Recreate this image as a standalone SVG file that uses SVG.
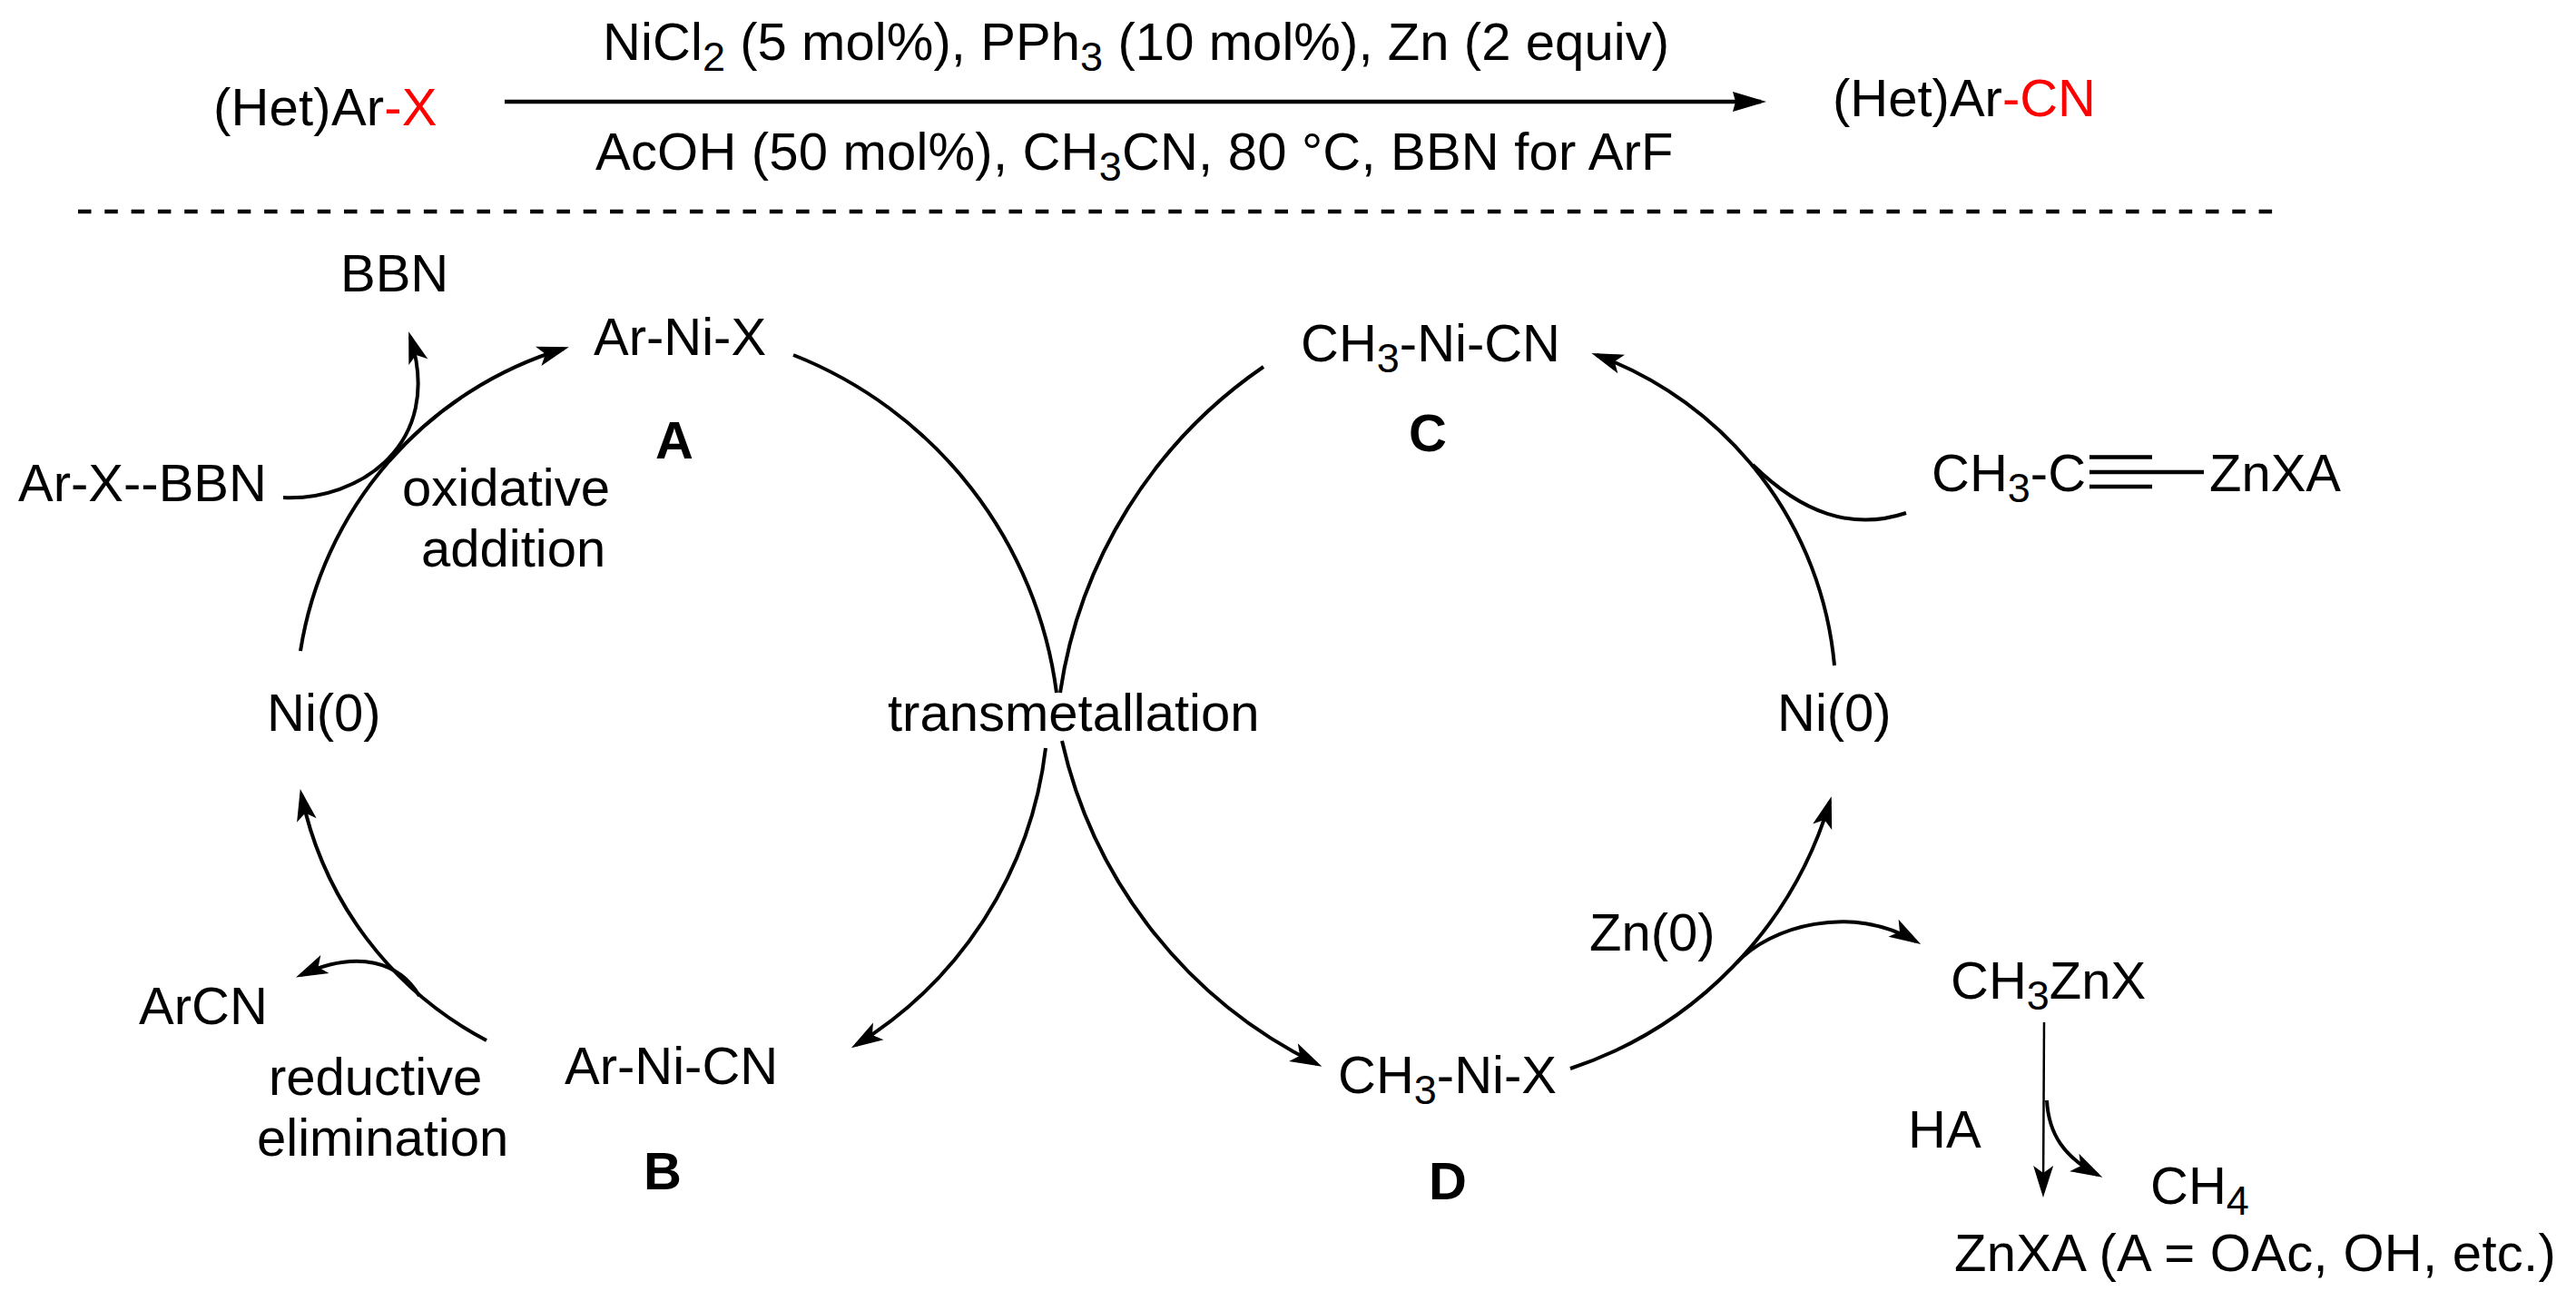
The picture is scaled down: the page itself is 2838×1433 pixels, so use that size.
<svg xmlns="http://www.w3.org/2000/svg" width="2838" height="1433" viewBox="0 0 2838 1433">
<style>
text{font-family:"Liberation Sans",Arial,sans-serif;font-size:58px;fill:#000}
.b{font-weight:bold}
.r{fill:#f00}
.s{font-size:45px}
.c{fill:none;stroke:#000;stroke-width:4}
.h{marker-end:url(#head)}
</style>
<defs>
<marker id="head" markerUnits="userSpaceOnUse" viewBox="-40 -15 45 30" markerWidth="45" markerHeight="30" refX="-6" refY="0" orient="auto" overflow="visible"><path d="M0 0L-35 -11L-27 0L-35 11Z" fill="#000"/></marker>
<marker id="big" markerUnits="userSpaceOnUse" viewBox="-45 -15 50 30" markerWidth="50" markerHeight="30" refX="-6" refY="0" orient="auto" overflow="visible"><path d="M0 0L-37 -11L-34 0L-37 11Z" fill="#000"/></marker>
</defs>
<rect width="2838" height="1433" fill="#fff"/>
<g id="connectors">
<path d="M556 112H1940" fill="none" stroke="#000" stroke-width="4.500" marker-end="url(#big)"/>
<path d="M86 233H2505" fill="none" stroke="#000" stroke-width="4.500" stroke-dasharray="14.5 14.8"/>
<path class="c h" d="M331 717A415 415 0 0 1 621 384"/>
<path class="c h" d="M312 548C395 552 490 490 452 371"/>
<path class="c" d="M874 391A464 464 0 0 1 1164 763"/>
<path class="c" d="M1392 404A528 528 0 0 0 1168 763"/>
<path class="c h" d="M1152 824A445 445 0 0 1 943 1151"/>
<path class="c h" d="M1170 816A525 525 0 0 0 1451 1172"/>
<path class="c h" d="M536 1146A397 397 0 0 1 332 875"/>
<path class="c h" d="M462 1097C440 1060 395 1045 331.500 1074"/>
<path class="c h" d="M1730 1177A444 444 0 0 0 2016 883"/>
<path class="c h" d="M1913 1061C1950 1020 2040 995 2111 1037"/>
<path class="c h" d="M2021 733A403 403 0 0 0 1759 391"/>
<path class="c" d="M2100 565C2040 585 1985 565 1931 512"/>
<path class="c h" style="stroke-width:2.500" d="M2252 1126L2251 1313"/>
<path class="c h" d="M2255 1212C2257 1250 2275 1275 2311 1294"/>
<path d="M2302 503.500H2371M2302 520H2428M2302 536H2371" fill="none" stroke="#000" stroke-width="4.500"/>
</g>
<g id="reactant"><text x="235" y="138" style="letter-spacing:.2px">(Het)Ar<tspan class="r">-X</tspan></text></g>
<g id="conditions-top"><text x="664" y="66" style="letter-spacing:.08px">NiCl<tspan class="s" dy="12">2</tspan><tspan dy="-12"> (5 mol%), PPh</tspan><tspan class="s" dy="12">3</tspan><tspan dy="-12"> (10 mol%), Zn (2 equiv)</tspan></text></g>
<g id="conditions-bottom"><text x="656" y="187" style="letter-spacing:.2px">AcOH (50 mol%), CH<tspan class="s" dy="12">3</tspan><tspan dy="-12">CN, 80 °C, BBN for ArF</tspan></text></g>
<g id="product"><text x="2019" y="128">(Het)Ar<tspan class="r">-CN</tspan></text></g>
<g id="bbn"><text x="375" y="321">BBN</text></g>
<g id="node-a"><text x="654" y="391">Ar-Ni-X</text><text class="b" x="722" y="505">A</text></g>
<g id="arx-bbn"><text x="20" y="552">Ar-X--BBN</text></g>
<g id="oxidative-addition"><text x="443" y="557">oxidative</text><text x="464" y="624">addition</text></g>
<g id="ni0-left"><text x="294" y="805">Ni(0)</text></g>
<g id="transmetallation"><text x="978" y="805">transmetallation</text></g>
<g id="arcn"><text x="153" y="1128">ArCN</text></g>
<g id="reductive-elimination"><text x="296" y="1206">reductive</text><text x="283" y="1273">elimination</text></g>
<g id="node-b"><text x="622" y="1194">Ar-Ni-CN</text><text class="b" x="709" y="1310">B</text></g>
<g id="node-c"><text x="1433" y="398">CH<tspan class="s" dy="12">3</tspan><tspan dy="-12">-Ni-CN</tspan></text><text class="b" x="1552" y="497">C</text></g>
<g id="ch3c-znxa"><text x="2128" y="541">CH<tspan class="s" dy="12">3</tspan><tspan dy="-12">-C</tspan></text><text x="2434" y="541">ZnXA</text></g>
<g id="ni0-right"><text x="1958" y="805">Ni(0)</text></g>
<g id="zn0"><text x="1751" y="1047">Zn(0)</text></g>
<g id="ch3znx"><text x="2149" y="1100">CH<tspan class="s" dy="12">3</tspan><tspan dy="-12">ZnX</tspan></text></g>
<g id="node-d"><text x="1474" y="1204">CH<tspan class="s" dy="12">3</tspan><tspan dy="-12">-Ni-X</tspan></text><text class="b" x="1574" y="1321">D</text></g>
<g id="ha"><text x="2102" y="1264">HA</text></g>
<g id="ch4"><text x="2369" y="1326">CH<tspan class="s" dy="12">4</tspan></text></g>
<g id="znxa"><text x="2153" y="1400" style="letter-spacing:.3px">ZnXA (A = OAc, OH, etc.)</text></g>
</svg>
